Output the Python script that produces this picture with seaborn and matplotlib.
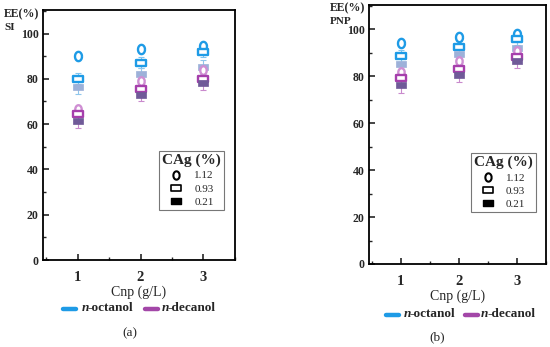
import numpy as np
import pandas as pd
import seaborn as sns
import matplotlib
matplotlib.use("Agg")
import matplotlib.pyplot as plt
from matplotlib.path import Path
from matplotlib.lines import Line2D
from matplotlib.ticker import MultipleLocator

sns.set_style("white")
plt.rcParams['font.family'] = ['Liberation Serif', 'DejaVu Serif']

cnp = [1, 2, 3]
# Panel (a) SI
si_oct_112 = [89.9, 93.0, 94.5]
si_oct_093 = [80.0, 87.2, 92.0]
si_oct_021 = [76.5, 82.0, 85.3]
si_dec_112 = [66.9, 79.0, 83.9]
si_dec_093 = [64.3, 75.5, 80.1]
si_dec_021 = [61.2, 73.0, 78.0]
# Panel (b) PNP
pnp_oct_112 = [94.2, 96.5, 97.9]
pnp_oct_093 = [88.5, 92.5, 95.6]
pnp_oct_021 = [85.0, 89.4, 92.0]
pnp_dec_112 = [81.8, 86.3, 90.8]
pnp_dec_093 = [79.0, 82.9, 88.0]
pnp_dec_021 = [76.0, 80.6, 86.4]
err_112 = [1.0, 1.0, 1.2]
err_093 = [2.5, 2.5, 2.5]
err_021 = [3.0, 3.0, 3.0]

ellipse = Path(np.column_stack([0.75 * np.cos(np.linspace(0, 2*np.pi, 40)),
                                np.sin(np.linspace(0, 2*np.pi, 40))]))
rect = Path([(-1, -0.62), (1, -0.62), (1, 0.62), (-1, 0.62), (-1, -0.62)],
            [Path.MOVETO, Path.LINETO, Path.LINETO, Path.LINETO, Path.CLOSEPOLY])

styles = {
    ('oct', '112'): dict(marker=ellipse, fill=False, color='#1E9BE6', ecol='#7FC4F0', s=45),
    ('oct', '093'): dict(marker=rect, fill=False, color='#1E9BE6', ecol='#7FC4F0', s=45),
    ('oct', '021'): dict(marker=rect, fill=True, color='#9DB1D9', ecol='#8FC6EC', s=48),
    ('dec', '112'): dict(marker=ellipse, fill=False, color='#CF8FD3', ecol='#D9A2DC', s=38),
    ('dec', '093'): dict(marker=rect, fill=False, color='#A63FAC', ecol='#C67FCB', s=42),
    ('dec', '021'): dict(marker=rect, fill=True, color='#705A98', ecol='#C98ACD', s=48),
}
errs = {'112': err_112, '093': err_093, '021': err_021}

panels = [
    dict(rect=[0.0782, 0.2507, 0.349, 0.7205], label='SI', tag='(a)',
         data={('oct', '112'): si_oct_112, ('oct', '093'): si_oct_093, ('oct', '021'): si_oct_021,
               ('dec', '112'): si_dec_112, ('dec', '093'): si_dec_093, ('dec', '021'): si_dec_021}),
    dict(rect=[0.6709, 0.2392, 0.3213, 0.7473], label='PNP', tag='(b)',
         data={('oct', '112'): pnp_oct_112, ('oct', '093'): pnp_oct_093, ('oct', '021'): pnp_oct_021,
               ('dec', '112'): pnp_dec_112, ('dec', '093'): pnp_dec_093, ('dec', '021'): pnp_dec_021}),
]

fig = plt.figure(figsize=(5.5, 3.47), dpi=100)
for p in panels:
    ax = fig.add_axes(p['rect'])
    for key, vals in p['data'].items():
        st = styles[key]
        e = errs[key[1]]
        ax.errorbar(cnp, vals, yerr=e, fmt='none', ecolor=st['ecol'], elinewidth=0.8,
                    capsize=2.5, capthick=0.8, zorder=1)
        df = pd.DataFrame({'x': cnp, 'y': vals})
        if st['fill']:
            sns.scatterplot(data=df, x='x', y='y', ax=ax, marker=st['marker'], s=st['s'],
                            color=st['color'], edgecolor=st['color'], linewidth=0.5, zorder=3)
        else:
            sns.scatterplot(data=df, x='x', y='y', ax=ax, marker=st['marker'], s=st['s'],
                            facecolor='white', edgecolor=st['color'], linewidth=1.7, zorder=3)
    ax.set_xlim(0.45, 3.5)
    ax.set_ylim(0, 110.4)
    ax.set_xticks(cnp)
    ax.set_yticks([0, 20, 40, 60, 80, 100])
    ax.xaxis.set_minor_locator(MultipleLocator(0.5))
    ax.yaxis.set_minor_locator(MultipleLocator(10))
    ax.tick_params(axis='both', which='major', direction='in', length=4, width=1.2,
                   top=False, right=False, left=True, bottom=True)
    ax.tick_params(axis='both', which='minor', direction='in', length=2, width=1.0,
                   top=False, right=False, left=True, bottom=True)
    ax.tick_params(axis='y', labelsize=8.5, pad=3)
    ax.tick_params(axis='x', labelsize=10.5, pad=8)
    for lab in ax.get_xticklabels() + ax.get_yticklabels():
        lab.set_fontweight('bold')
    for sp in ax.spines.values():
        sp.set_color('black')
        sp.set_linewidth(1.3)
    ax.set_xlabel('Cnp (g/L)', fontsize=10, labelpad=1)
    ax.set_ylabel('')
    handles = [
        Line2D([], [], marker=ellipse, linestyle='none', markerfacecolor='white',
               markeredgecolor='black', markersize=6, markeredgewidth=1.5),
        Line2D([], [], marker=rect, linestyle='none', markerfacecolor='white',
               markeredgecolor='black', markersize=7, markeredgewidth=1.2),
        Line2D([], [], marker=rect, linestyle='none', markerfacecolor='black',
               markeredgecolor='black', markersize=7),
    ]
    leg = ax.legend(handles, ['1.12', '0.93', '0.21'], title='CAg (%)',
                    loc='lower right', bbox_to_anchor=(0.945, 0.2), fontsize=8,
                    title_fontproperties={'size': 11, 'weight': 'bold'},
                    frameon=True, fancybox=False, edgecolor='#555555',
                    handlelength=1.2, handletextpad=1.0, labelspacing=0.3,
                    borderpad=0.3, borderaxespad=0)
    leg.get_frame().set_linewidth(0.8)

fig.text(4/550, 1 - 14/347, 'EE(%)', fontsize=8.5, fontweight='bold', va='center', ha='left')
fig.text(4/550, 1 - 27/347, 'SI', fontsize=8, fontweight='bold', va='center', ha='left')
fig.text(330/550, 1 - 8/347, 'EE(%)', fontsize=8.5, fontweight='bold', va='center', ha='left')
fig.text(330/550, 1 - 21/347, 'PNP', fontsize=8, fontweight='bold', va='center', ha='left')

def solvent_legend(x0, y, xtext1, x2, xtext2):
    yy = 1 - y / 347
    for xs, col in ((x0, '#1E9BE6'), (x2, '#A347A8')):
        fig.add_artist(Line2D([xs/550, (xs+13)/550], [yy - 0.004, yy - 0.004], color=col,
                              linewidth=3.2, solid_capstyle='round'))
    for xt, name in ((xtext1, 'octanol'), (xtext2, 'decanol')):
        fig.text(xt/550, yy, 'n', fontsize=9.5, fontweight='bold', fontstyle='italic',
                 va='center', ha='left')
        fig.text((xt + 6)/550, yy, '-' + name, fontsize=9.5, fontweight='bold',
                 va='center', ha='left')

solvent_legend(63, 308, 82, 145, 162)
solvent_legend(386, 314, 404, 465, 481)

fig.text(130/550, 1 - 333/347, '(a)', fontsize=9.5, ha='center', va='center')
fig.text(437/550, 1 - 337/347, '(b)', fontsize=9.5, ha='center', va='center')

fig.savefig('out.png', dpi=100)
